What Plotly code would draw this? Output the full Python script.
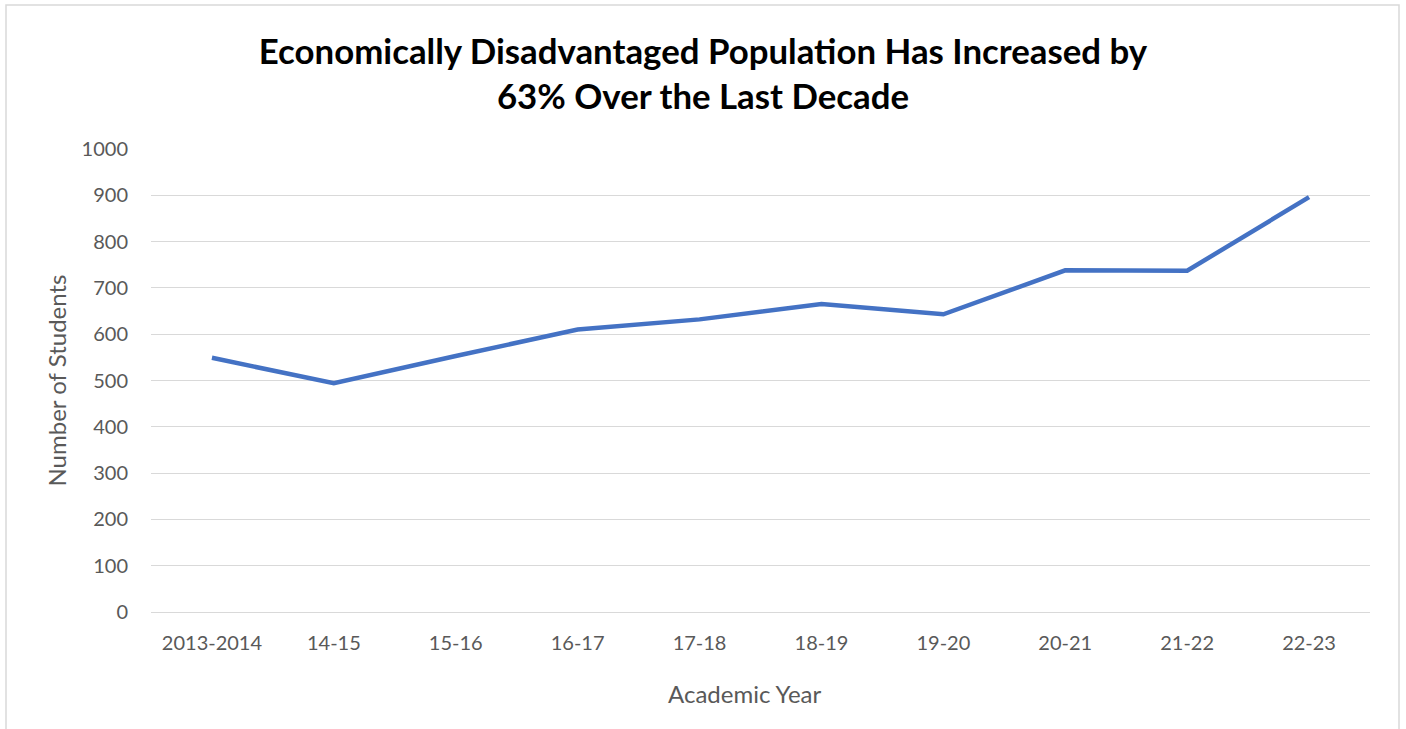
import plotly.graph_objects as go

years = ["2013-2014", "14-15", "15-16", "16-17", "17-18", "18-19", "19-20", "20-21", "21-22", "22-23"]
students = [549, 494, 553, 610, 632, 665, 643, 738, 737, 896]
y_ticks = [0, 100, 200, 300, 400, 500, 600, 700, 800, 900, 1000]

FONT = "Lato, Carlito, Calibri, sans-serif"

fig = go.Figure()
fig.add_trace(go.Scatter(
    x=years, y=students, mode="lines",
    line=dict(color="#4472C4", width=4.5),
    showlegend=False,
))

fig.update_layout(
    width=1406, height=729,
    margin=dict(l=151, r=36, t=149, b=117),
    paper_bgcolor="white", plot_bgcolor="white",
    font=dict(family=FONT, color="#595959"),
    title=dict(
        text="<b>Economically Disadvantaged Population Has Increased by<br>63% Over the Last Decade</b>",
        x=0.5, xanchor="center", y=0.912, yanchor="top",
        font=dict(size=34.8, color="black", family=FONT),
    ),
    xaxis=dict(
        type="category", showgrid=False, ticks="", showline=True, linecolor="#D9D9D9", linewidth=1,
        tickfont=dict(size=20, color="#595959"), ticklabelstandoff=13,
        range=[-0.5, 9.5],
    ),
    yaxis=dict(
        range=[0, 1000], tickvals=y_ticks, showgrid=True, gridcolor="#D9D9D9", gridwidth=1,
        zeroline=False, ticks="", tickfont=dict(size=20, color="#595959"), ticklabelstandoff=22,
        title=dict(text="Number of Students", font=dict(size=24, color="#595959"), standoff=8),
    ),
    annotations=[dict(
        text="Academic Year", xref="paper", yref="paper",
        x=(745 - 151) / 1219, y=(611.7 - 693) / 462.7, xanchor="center", yanchor="middle",
        showarrow=False, font=dict(size=24, color="#595959", family=FONT),
    )],
    shapes=[dict(
        type="rect", xref="paper", yref="paper",
        x0=(6 - 151) / 1219, x1=(1399 - 151) / 1219,
        y0=(611.7 - 760) / 462.7, y1=(611.7 - 5) / 462.7,
        line=dict(color="#D9D9D9", width=1.5), fillcolor="rgba(0,0,0,0)", layer="below",
    )],
)

fig.write_html("out.html")
